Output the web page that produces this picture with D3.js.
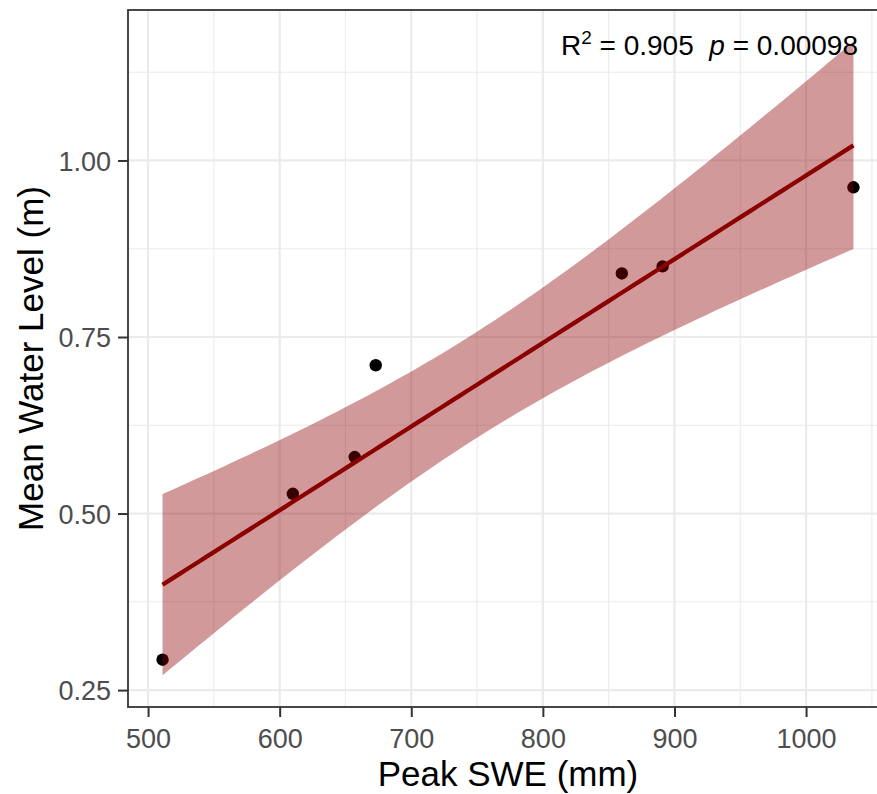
<!DOCTYPE html>
<html>
<head>
<meta charset="utf-8">
<script src="https://cdn.jsdelivr.net/npm/d3@7"></script>
<style>
  html, body { margin: 0; padding: 0; background: #fff; }
  svg { display: block; font-family: "Liberation Sans", Arial, Helvetica, sans-serif; }
</style>
</head>
<body>
<svg id="chart" width="877" height="794"></svg>
<script>
// ---- data ----
const peakSWE = [511, 610, 657, 673, 860, 891, 1036];
const meanWaterLevel = [0.293, 0.528, 0.580, 0.710, 0.840, 0.850, 0.962];
const xTicks = [500, 600, 700, 800, 900, 1000];
const xMinorTicks = [550, 650, 750, 850, 950, 1050];
const yTicks = [0.25, 0.50, 0.75, 1.00];
const yMinorTicks = [0.375, 0.625, 0.875, 1.125];
const xTitle = "Peak SWE (mm)";
const yTitle = "Mean Water Level (m)";
const r2Label = "0.905";
const pLabel = "0.00098";
const tCrit = 2.570582; // t(0.975, df = 5)

// ---- linear model (as geom_smooth(method = "lm")) ----
const n = peakSWE.length;
const mx = d3.mean(peakSWE), my = d3.mean(meanWaterLevel);
let sxx = 0, sxy = 0;
for (let i = 0; i < n; i++) {
  sxx += (peakSWE[i] - mx) ** 2;
  sxy += (peakSWE[i] - mx) * (meanWaterLevel[i] - my);
}
const slope = sxy / sxx, intercept = my - slope * mx;
let sse = 0;
for (let i = 0; i < n; i++) sse += (meanWaterLevel[i] - (intercept + slope * peakSWE[i])) ** 2;
const s = Math.sqrt(sse / (n - 2));
const [xmin, xmax] = d3.extent(peakSWE);
const fit = d3.range(80).map(k => {
  const x = xmin + (xmax - xmin) * k / 79;
  const yhat = intercept + slope * x;
  const se = s * Math.sqrt(1 / n + (x - mx) ** 2 / sxx);
  return { x, y: yhat, lo: yhat - tCrit * se, hi: yhat + tCrit * se };
});

// ---- layout ----
const svg = d3.select("#chart");
const panel = { left: 128, top: 10, right: 888, bottom: 707 };

const xPad = (xmax - xmin) * 0.05;
const x = d3.scaleLinear().domain([xmin - xPad, xmax + xPad]).range([panel.left, panel.right]);
const yLo = Math.min(d3.min(meanWaterLevel), d3.min(fit, d => d.lo));
const yHi = Math.max(d3.max(meanWaterLevel), d3.max(fit, d => d.hi));
const yPad = (yHi - yLo) * 0.05;
const y = d3.scaleLinear().domain([yLo - yPad, yHi + yPad]).range([panel.bottom, panel.top]);

svg.append("defs").append("clipPath").attr("id", "clip")
  .append("rect").attr("x", panel.left).attr("y", panel.top)
  .attr("width", panel.right - panel.left).attr("height", panel.bottom - panel.top);

const g = svg.append("g").attr("clip-path", "url(#clip)");

// gridlines
g.selectAll(".xminor").data(xMinorTicks).join("line")
  .attr("x1", d => x(d)).attr("x2", d => x(d)).attr("y1", panel.top).attr("y2", panel.bottom)
  .attr("stroke", "#ebebeb").attr("stroke-width", 1.1);
g.selectAll(".yminor").data(yMinorTicks).join("line")
  .attr("y1", d => y(d)).attr("y2", d => y(d)).attr("x1", panel.left).attr("x2", panel.right)
  .attr("stroke", "#ebebeb").attr("stroke-width", 1.1);
g.selectAll(".xmajor").data(xTicks).join("line")
  .attr("x1", d => x(d)).attr("x2", d => x(d)).attr("y1", panel.top).attr("y2", panel.bottom)
  .attr("stroke", "#ebebeb").attr("stroke-width", 2.2);
g.selectAll(".ymajor").data(yTicks).join("line")
  .attr("y1", d => y(d)).attr("y2", d => y(d)).attr("x1", panel.left).attr("x2", panel.right)
  .attr("stroke", "#ebebeb").attr("stroke-width", 2.2);

// points (drawn under the smooth)
g.selectAll(".pt").data(peakSWE).join("circle")
  .attr("cx", d => x(d)).attr("cy", (d, i) => y(meanWaterLevel[i]))
  .attr("r", 6.2).attr("fill", "#000");

// ribbon
g.append("path").datum(fit)
  .attr("d", d3.area().x(d => x(d.x)).y0(d => y(d.lo)).y1(d => y(d.hi)))
  .attr("fill", "#8b0000").attr("fill-opacity", 0.4);

// fit line
g.append("path").datum(fit)
  .attr("d", d3.line().x(d => x(d.x)).y(d => y(d.y)))
  .attr("fill", "none").attr("stroke", "#8b0000").attr("stroke-width", 4.3);

// panel border
svg.append("rect")
  .attr("x", panel.left).attr("y", panel.top)
  .attr("width", panel.right - panel.left).attr("height", panel.bottom - panel.top)
  .attr("fill", "none").attr("stroke", "#333333").attr("stroke-width", 1.8);

// axes
const xAxis = svg.append("g").attr("transform", `translate(0,${panel.bottom})`)
  .call(d3.axisBottom(x).tickValues(xTicks).tickSize(10).tickPadding(6).tickFormat(d3.format("d")));
const yAxis = svg.append("g").attr("transform", `translate(${panel.left},0)`)
  .call(d3.axisLeft(y).tickValues(yTicks).tickSize(10).tickPadding(7).tickFormat(d3.format(".2f")));
[xAxis, yAxis].forEach(a => {
  a.select(".domain").remove();
  a.selectAll(".tick line").attr("stroke", "#333333").attr("stroke-width", 2);
  a.selectAll(".tick text").attr("fill", "#4d4d4d")
    .style("font-size", "27px").style("font-family", "'Liberation Sans', Arial, sans-serif");
});
xAxis.selectAll(".tick text").attr("dy", "0.93em");
yAxis.selectAll(".tick text").attr("dy", "0.36em");

// axis titles
svg.append("text").attr("x", (panel.left + panel.right) / 2).attr("y", 786)
  .attr("text-anchor", "middle").attr("fill", "#000").style("font-size", "35px").text(xTitle);
svg.append("text")
  .attr("transform", `translate(43,${(panel.top + panel.bottom) / 2}) rotate(-90)`)
  .attr("text-anchor", "middle").attr("fill", "#000").style("font-size", "35px").text(yTitle);

// annotation
const ann = svg.append("text").attr("x", 858).attr("y", 55).attr("text-anchor", "end")
  .attr("fill", "#000").style("font-size", "28px").style("white-space", "pre");
ann.append("tspan").text("R");
ann.append("tspan").attr("dy", -11).style("font-size", "19px").text("2");
ann.append("tspan").attr("dy", 11).text(" = " + r2Label + "  ");
ann.append("tspan").style("font-style", "italic").text("p");
ann.append("tspan").text(" = " + pLabel);
</script>
</body>
</html>
